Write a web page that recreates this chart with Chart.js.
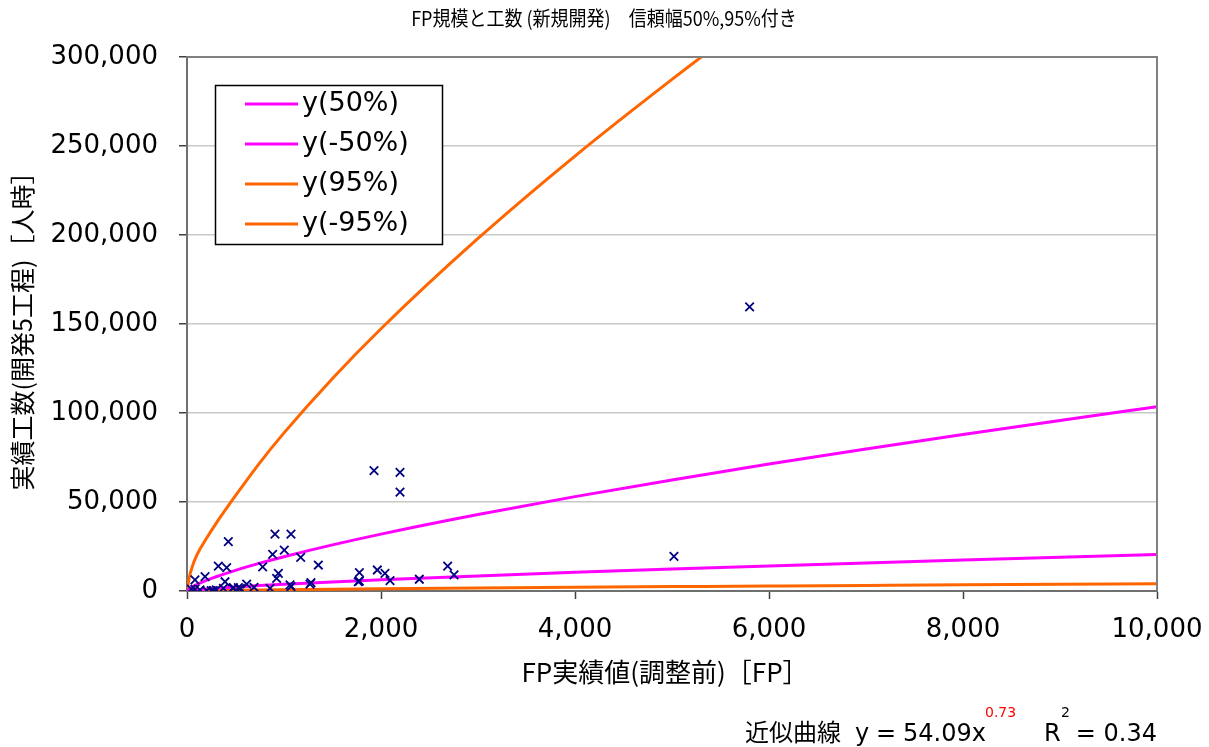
<!DOCTYPE html>
<html>
<head>
<meta charset="utf-8">
<script src="https://cdn.jsdelivr.net/npm/chart.js@4"></script>
<style>
  body { margin: 0; background: #fff; }
  canvas { display: block; }
</style>
</head>
<body>
<canvas id="fpChart" width="1209" height="747"></canvas>
<script>
// 実績データ (FP実績値, 実績工数)
const fpActual = [82, 186, 82, 134, 203, 271, 323, 409, 426, 392, 375, 478, 529, 615, 691, 780, 856, 883, 907, 942, 924, 1003, 1072, 1062, 1072, 1172, 1268, 1278, 1354, 1777, 1766, 1777, 1962, 2041, 2093, 2395, 2687, 2753, 1928, 2196, 2196, 5020, 5800, 44, 250, 302, 474, 550];
const effortActual = [6200, 8100, 1000, 600, 200, 200, 14000, 13100, 27700, 5200, 1500, 1900, 1900, 3900, 2100, 13500, 1500, 20600, 32000, 9900, 7100, 23000, 32000, 3400, 2400, 18900, 3900, 4700, 14600, 10300, 5200, 5600, 11800, 9900, 5800, 6600, 14000, 9000, 67600, 66700, 55600, 19500, 159600, 1100, 200, 600, 1500, 1500];

// 信頼幅の曲線
const curveFp = [0, 25, 50, 100, 200, 300, 500, 750, 1000, 1500, 2000, 3000, 4000, 5000, 6000, 7000, 8000, 9000, 10000];
const upper50 = [0, 1300, 2160, 3590, 5950, 8000, 11620, 15630, 19270, 25910, 31970, 42970, 53020, 62360, 71310, 79820, 87940, 95840, 103480];
const lower50 = [0, 260, 430, 710, 1180, 1580, 2300, 3090, 3810, 5120, 6320, 8490, 10480, 12330, 14090, 15770, 17380, 18940, 20450];
const upper95 = [0, 8000, 13000, 20000, 29500, 38000, 53550, 72020, 88820, 119430, 147350, 198040, 244360, 287420, 328640];
const lower95 = [0, 50, 85, 140, 235, 315, 460, 620, 760, 1020, 1260, 1700, 2100, 2465, 2820, 3155, 3475, 3790, 4090];

const legendLabels = ["y(50%)", "y(-50%)", "y(95%)", "y(-95%)"];
const xTicks = [0, 2000, 4000, 6000, 8000, 10000];
const yTicks = [0, 50000, 100000, 150000, 200000, 250000, 300000];

function toPoints(xs, ys) {
    return ys.map((y, i) => ({ x: xs[i], y: y }));
}

function curve(label, ys, color) {
    return {
        label: label,
        data: toPoints(curveFp, ys),
        showLine: true,
        borderColor: color,
        backgroundColor: color,
        borderWidth: 3,
        pointRadius: 0,
        cubicInterpolationMode: "monotone",
        inLegend: true
    };
}

const latin = "'DejaVu Sans', Verdana, sans-serif";
const jp = "'Noto Sans CJK JP', 'DejaVu Sans', sans-serif";

const textPlugin = {
    id: "texts",
    afterDatasetsDraw(chart) {
        const ctx = chart.ctx;
        const a = chart.chartArea;
        ctx.save();
        // 枠 (上と右)
        ctx.strokeStyle = "#808080";
        ctx.lineWidth = 2;
        ctx.beginPath();
        ctx.moveTo(a.left, a.top);
        ctx.lineTo(a.right, a.top);
        ctx.lineTo(a.right, a.bottom);
        ctx.stroke();
        ctx.restore();
    },
    afterDraw(chart) {
        const ctx = chart.ctx;
        ctx.save();
        ctx.fillStyle = "#000";
        ctx.textBaseline = "middle";

        // タイトル (少し縦長のフォントに合わせる)
        ctx.textAlign = "center";
        ctx.save();
        ctx.translate(604, 18);
        ctx.scale(0.9, 1);
        ctx.font = "20px " + jp;
        ctx.fillText("FP規模と工数 (新規開発)　信頼幅50%,95%付き", 0, 0);
        ctx.restore();

        // 軸タイトル
        ctx.font = "26px " + jp;
        ctx.fillText("FP実績値(調整前)［FP］", 665, 672);
        ctx.save();
        ctx.translate(22, 325);
        ctx.rotate(-Math.PI / 2);
        ctx.font = "25px " + jp;
        ctx.fillText("実績工数(開発5工程)［人時］", 0, 0);
        ctx.restore();

        // 凡例
        ctx.fillStyle = "#fff";
        ctx.fillRect(215, 85, 228, 160);
        ctx.strokeStyle = "#000";
        ctx.lineWidth = 1.5;
        ctx.strokeRect(215.5, 85.5, 227, 159);
        const sets = chart.data.datasets.filter(d => d.inLegend);
        ctx.textAlign = "left";
        ctx.font = "27px " + latin;
        sets.forEach((d, i) => {
            const y = 104 + i * 40;
            ctx.strokeStyle = d.borderColor;
            ctx.lineWidth = 3;
            ctx.beginPath();
            ctx.moveTo(245, y);
            ctx.lineTo(298, y);
            ctx.stroke();
            ctx.fillStyle = "#000";
            ctx.fillText(d.label, 302, y);
        });

        // 近似曲線
        ctx.textBaseline = "alphabetic";
        ctx.font = "24px " + jp;
        ctx.fillText("近似曲線", 745, 741);
        ctx.font = "24px " + latin;
        ctx.fillText("y", 855, 741);
        ctx.fillText("=", 876, 741);
        ctx.fillText("54.09x", 903, 741);
        ctx.fillText("R", 1044, 741);
        ctx.textAlign = "right";
        ctx.fillText("= 0.34", 1157, 741);
        ctx.textAlign = "left";
        ctx.font = "14px " + latin;
        ctx.fillStyle = "#ff0000";
        ctx.fillText("0.73", 985, 717);
        ctx.fillStyle = "#000";
        ctx.fillText("2", 1061, 717);
        ctx.restore();
    }
};

new Chart(document.getElementById("fpChart").getContext("2d"), {
    type: "scatter",
    data: {
        datasets: [
            {
                label: "実績",
                data: toPoints(fpActual, effortActual),
                pointStyle: "crossRot",
                pointRadius: 6,
                pointHoverRadius: 6,
                borderColor: "#000080",
                backgroundColor: "#000080",
                pointBorderWidth: 1.8
            },
            curve(legendLabels[0], upper50, "#ff00ff"),
            curve(legendLabels[1], lower50, "#ff00ff"),
            curve(legendLabels[2], upper95, "#ff6600"),
            curve(legendLabels[3], lower95, "#ff6600")
        ]
    },
    options: {
        responsive: false,
        animation: false,
        layout: { padding: { left: 0, right: 52, top: 57, bottom: 0 } },
        plugins: {
            legend: { display: false },
            title: { display: false },
            tooltip: { enabled: false }
        },
        scales: {
            x: {
                type: "linear",
                min: xTicks[0],
                max: xTicks[xTicks.length - 1],
                afterBuildTicks: s => { s.ticks = xTicks.map(v => ({ value: v })); },
                afterFit: s => { s.height = 156; s.paddingLeft = 0; s.paddingRight = 0; },
                grid: { drawOnChartArea: false, drawTicks: true, tickLength: 8, tickColor: "#404040", tickWidth: 1.5 },
                border: { color: "#707070", width: 2 },
                ticks: {
                    color: "#000",
                    padding: 16,
                    font: { family: latin, size: 26 },
                    callback: v => v.toLocaleString("en-US")
                }
            },
            y: {
                type: "linear",
                min: yTicks[0],
                max: yTicks[yTicks.length - 1],
                afterBuildTicks: s => { s.ticks = yTicks.map(v => ({ value: v })); },
                afterFit: s => { s.width = 187; s.paddingTop = 0; s.paddingBottom = 0; },
                grid: { color: "#c8c8c8", lineWidth: 1.5, drawTicks: true, tickLength: 8, tickColor: "#404040", tickWidth: 1.5 },
                border: { color: "#707070", width: 2 },
                ticks: {
                    color: "#000",
                    padding: 21,
                    font: { family: latin, size: 26 },
                    callback: v => v.toLocaleString("en-US")
                }
            }
        }
    },
    plugins: [textPlugin]
});
</script>
</body>
</html>
